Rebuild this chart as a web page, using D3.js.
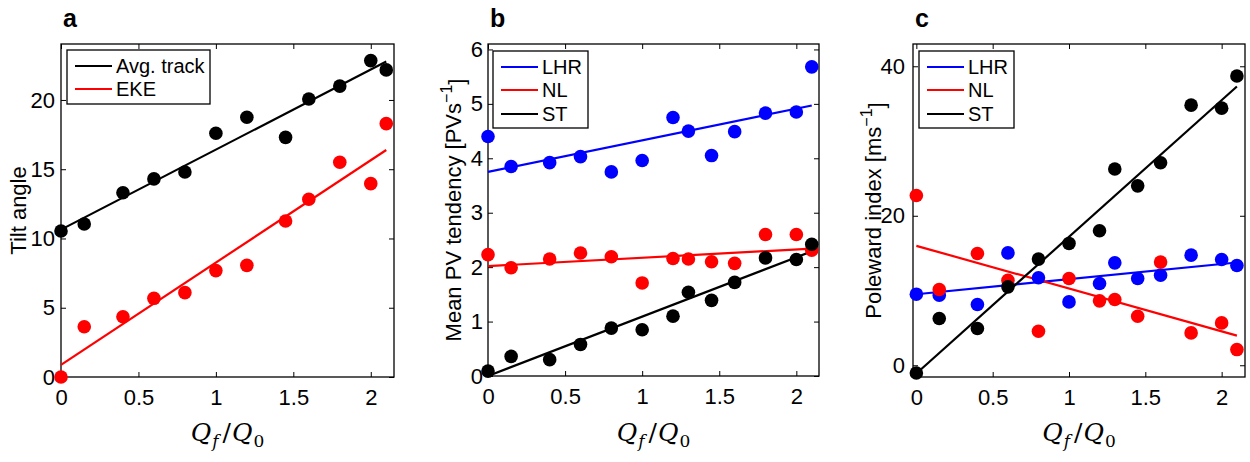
<!DOCTYPE html>
<html>
<head>
<meta charset="utf-8">
<script src="https://cdn.jsdelivr.net/npm/d3@7"></script>
<style>
  html, body { margin: 0; padding: 0; background: #fff; }
  svg { display: block; }
  text { font-family: Arial, "Liberation Sans", Helvetica, sans-serif; fill: #000; }
</style>
</head>
<body>
<svg id="chart" width="1250" height="462"></svg>
<script>
// ---------------- data ----------------
const xA = [0, 0.15, 0.4, 0.6, 0.8, 1.0, 1.2, 1.45, 1.6, 1.8, 2.0, 2.1];
const tiltTrack = [10.54, 11.05, 13.3, 14.3, 14.8, 17.6, 18.75, 17.3, 20.07, 21.0, 22.84, 22.17];
const tiltEKE   = [0.0, 3.63, 4.35, 5.68, 6.09, 7.68, 8.06, 11.26, 12.83, 15.5, 13.96, 18.29];
const fitTrack = [10.64, 22.77];   // fitted line at x = 0 and x = 2.1
const fitEKE   = [0.87, 16.39];

const xBC = [0, 0.15, 0.4, 0.6, 0.8, 1.0, 1.2, 1.3, 1.45, 1.6, 1.8, 2.0, 2.1];
const pvLHR = [4.40, 3.85, 3.92, 4.03, 3.75, 3.96, 4.75, 4.50, 4.05, 4.49, 4.83, 4.85, 5.68];
const pvNL  = [2.23, 1.99, 2.15, 2.26, 2.19, 1.71, 2.16, 2.15, 2.10, 2.07, 2.60, 2.60, 2.31];
const pvST  = [0.09, 0.36, 0.30, 0.58, 0.88, 0.85, 1.10, 1.54, 1.39, 1.72, 2.17, 2.14, 2.42];
const fitPvLHR = [3.75, 4.97];
const fitPvNL  = [2.02, 2.34];
const fitPvST  = [0.0, 2.29];

const poleLHR = [9.51, 9.37, 8.13, 15.04, 11.7, 8.48, 10.94, 13.7, 11.6, 12.05, 14.73, 14.15, 13.35];
const poleNL  = [22.72, 10.13, 14.96, 11.38, 4.55, 11.6, 8.62, 8.8, 6.56, 13.8, 4.33, 5.67, 2.1];
const poleST  = [-1.03, 6.25, 4.91, 10.49, 14.2, 16.3, 17.99, 26.25, 24.0, 27.1, 34.8, 34.4, 38.7];
const fitPoleLHR = [9.5, 13.75];
const fitPoleNL  = [15.98, 3.97];
const fitPoleST  = [-1.1, 37.3];

const fitX = [0, 2.1];
const xTicks = [0, 0.5, 1, 1.5, 2];
const yTicksA = [0, 5, 10, 15, 20];
const yTicksB = [0, 1, 2, 3, 4, 5, 6];
const yTicksC = [0, 20, 40];

const legendA = ["Avg. track", "EKE"];
const legendBC = ["LHR", "NL", "ST"];
const colorsA = ["#000000", "#ff0000"];
const colorsBC = ["#0000ff", "#ff0000", "#000000"];

// ---------------- drawing ----------------
const svg = d3.select("#chart");

const panels = [
  {
    label: "a", box: [61, 394, 44, 377], xDom: [0, 2.15], yDom: [0, 24.04], yTicks: yTicksA,
    ylabel: [{t: "Tilt angle"}], ylabelX: 18, tickRight: 55,
    series: [
      {x: xA, y: tiltTrack, fit: fitTrack, color: colorsA[0]},
      {x: xA, y: tiltEKE, fit: fitEKE, color: colorsA[1]}
    ],
    legend: {names: legendA, colors: colorsA, box: [67, 210, 50, 104], rowY: [66, 89]}
  },
  {
    label: "b", box: [488, 819, 44, 376], xDom: [0, 2.147], yDom: [0, 6.1], yTicks: yTicksB,
    ylabel: [{t: "Mean PV tendency [PVs"}, {t: "\u22121", sup: true}, {t: "]"}], ylabelX: 453, tickRight: 483,
    series: [
      {x: xBC, y: pvLHR, fit: fitPvLHR, color: colorsBC[0]},
      {x: xBC, y: pvNL, fit: fitPvNL, color: colorsBC[1]},
      {x: xBC, y: pvST, fit: fitPvST, color: colorsBC[2]}
    ],
    legend: {names: legendBC, colors: colorsBC, box: [493, 588, 51, 128], rowY: [67, 90, 114]}
  },
  {
    label: "c", box: [913, 1245, 44, 377], xDom: [-0.022, 2.153], yDom: [-1.57, 42.98], yTicks: yTicksC,
    ylabel: [{t: "Poleward index [ms"}, {t: "\u22121", sup: true}, {t: "]"}], ylabelX: 873, tickRight: 905,
    series: [
      {x: xBC, y: poleLHR, fit: fitPoleLHR, color: colorsBC[0]},
      {x: xBC, y: poleNL, fit: fitPoleNL, color: colorsBC[1]},
      {x: xBC, y: poleST, fit: fitPoleST, color: colorsBC[2]}
    ],
    legend: {names: legendBC, colors: colorsBC, box: [919, 1014, 51, 128], rowY: [67, 90, 114]}
  }
];

panels.forEach(p => {
  const [L, R, T, B] = p.box;
  const x = d3.scaleLinear().domain(p.xDom).range([L, R]);
  const y = d3.scaleLinear().domain(p.yDom).range([B, T]);
  const g = svg.append("g");
  const tl = 5;

  const axB = d3.axisBottom(x).tickValues(xTicks).tickSizeInner(-tl).tickSizeOuter(0).tickPadding(12).tickFormat(d3.format("~g"));
  const axT = d3.axisTop(x).tickValues(xTicks).tickSizeInner(-tl).tickSizeOuter(0).tickFormat("");
  const axL = d3.axisLeft(y).tickValues(p.yTicks).tickSizeInner(-tl).tickSizeOuter(0).tickPadding(L - p.tickRight).tickFormat(d3.format("~g"));
  const axR = d3.axisRight(y).tickValues(p.yTicks).tickSizeInner(-tl).tickSizeOuter(0).tickFormat("");

  [[axB, `translate(0,${B})`], [axT, `translate(0,${T})`], [axL, `translate(${L},0)`], [axR, `translate(${R},0)`]]
    .forEach(([ax, tr]) => {
      const a = g.append("g").attr("transform", tr).call(ax);
      a.select(".domain").remove();
      a.selectAll(".tick line").attr("stroke", "#000").attr("stroke-width", 1);
      a.selectAll(".tick text").style("font-size", "22px").attr("fill", "#000")
        .style("font-family", "Arial, 'Liberation Sans', sans-serif");
    });

  g.append("rect").attr("x", L).attr("y", T).attr("width", R - L).attr("height", B - T)
    .attr("fill", "none").attr("stroke", "#000").attr("stroke-width", 1.3);

  const line = d3.line().x(d => x(d[0])).y(d => y(d[1]));
  p.series.forEach(s => {
    g.append("path").datum(fitX.map((xv, i) => [xv, s.fit[i]]))
      .attr("d", line).attr("stroke", s.color).attr("stroke-width", 2.2).attr("fill", "none");
  });
  p.series.forEach(s => {
    g.append("g").selectAll("circle").data(s.x.map((xv, i) => [xv, s.y[i]])).join("circle")
      .attr("cx", d => x(d[0])).attr("cy", d => y(d[1])).attr("r", 6.8).attr("fill", s.color);
  });

  const lg = p.legend;
  g.append("rect").attr("x", lg.box[0]).attr("y", lg.box[2]).attr("width", lg.box[1] - lg.box[0]).attr("height", lg.box[3] - lg.box[2])
    .attr("fill", "#fff").attr("stroke", "#000").attr("stroke-width", 1.3);
  lg.names.forEach((n, i) => {
    const ly = lg.rowY[i];
    g.append("line").attr("x1", lg.box[0] + 8).attr("x2", lg.box[0] + 45).attr("y1", ly).attr("y2", ly)
      .attr("stroke", lg.colors[i]).attr("stroke-width", 2.2);
    g.append("text").attr("x", lg.box[0] + 49).attr("y", ly).attr("dy", "0.36em")
      .style("font-size", "20px").text(n);
  });

  g.append("text").attr("x", L + 2).attr("y", 27).style("font-size", "25px").style("font-weight", "bold").text(p.label);

  const yl = g.append("text").attr("transform", `translate(${p.ylabelX},${(T + B) / 2}) rotate(-90)`)
    .attr("text-anchor", "middle").attr("dy", "0.36em").style("font-size", "22px");
  p.ylabel.forEach(part => {
    const ts = yl.append("tspan").text(part.t);
    if (part.sup) ts.attr("dy", "-0.55em").style("font-size", "16px");
    else if (yl.selectAll("tspan").size() > 1) ts.attr("dy", "0.55em");
  });

  const xl = g.append("text").attr("x", (L + R) / 2).attr("y", 441).attr("text-anchor", "middle")
    .style("font-family", "'DejaVu Serif', 'Liberation Serif', serif").style("font-size", "25px");
  xl.append("tspan").style("font-style", "italic").text("Q");
  xl.append("tspan").style("font-style", "italic").style("font-size", "17px").attr("dy", "6").attr("dx", "1").text("f");
  xl.append("tspan").attr("dy", "-6").attr("dx", "4").text("/");
  xl.append("tspan").style("font-style", "italic").attr("dx", "1").text("Q");
  xl.append("tspan").style("font-size", "17px").attr("dy", "6").attr("dx", "1").text("0");
});
</script>
</body>
</html>
